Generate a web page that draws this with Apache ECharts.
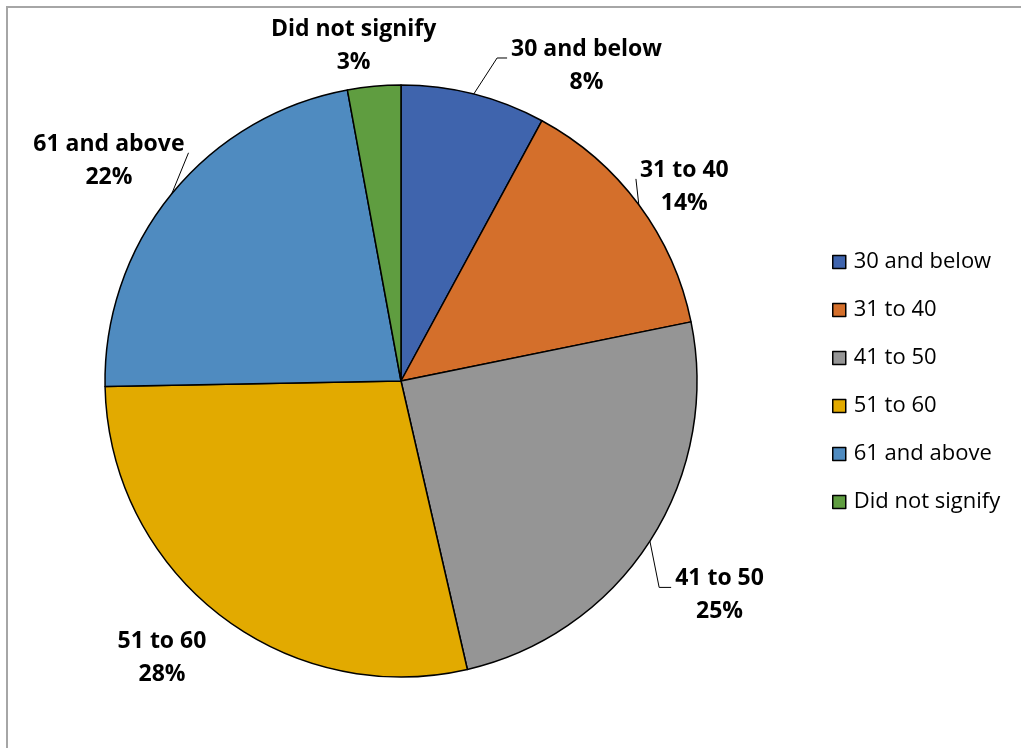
<!DOCTYPE html>
<html>
<head>
<meta charset="utf-8">
<script src="https://cdn.jsdelivr.net/npm/echarts@6/dist/echarts.min.js"></script>
<style>
html,body{margin:0;padding:0;background:#fff;overflow:hidden;}
#frame{position:absolute;left:6px;top:6px;width:1100px;height:800px;border-top:2px solid #a6a6a6;border-left:2px solid #a6a6a6;}
#chart{position:absolute;left:0;top:0;width:1021px;height:748px;}
</style>
</head>
<body>
<div id="frame"></div>
<div id="chart"></div>
<script>
const categories = ['30 and below', '31 to 40', '41 to 50', '51 to 60', '61 and above', 'Did not signify'];
const shares = [7.9, 13.9, 24.6, 28.3, 22.4, 2.9];
const colors = ['#3F64AD', '#D46F2B', '#959595', '#E2AA00', '#4F8BC0', '#5F9D40'];

// label nudges relative to ECharts' default outside placement (layout only)
const labelShiftX = [15, -38, -15, 21, 51, 80];
const labelShiftY = [1, 0, 38, 20, -14, -10];
const leaderShown = [true, true, true, false, true, false];
const leaderTail = [10, 0, 12, 0, 0, 0];

const chart = echarts.init(document.getElementById('chart'));
const font = '"Open Sans", Lato, sans-serif';
chart.setOption({
  animation: false,
  color: colors,
  legend: {
    orient: 'vertical',
    left: 827,
    top: 246,
    itemWidth: 13,
    itemHeight: 13,
    itemGap: 26,
    icon: 'rect',
    textStyle: { fontFamily: font, fontSize: 22, color: '#000', lineHeight: 20, padding: [0, 0, 0, 3] },
    itemStyle: { borderColor: '#000', borderWidth: 1.5 },
    data: categories
  },
  series: [{
    type: 'pie',
    center: [401, 381],
    radius: 296,
    startAngle: 90,
    clockwise: true,
    avoidLabelOverlap: false,
    itemStyle: { borderColor: '#000', borderWidth: 1.5 },
    label: {
      show: true,
      position: 'outside',
      formatter: p => '{a|' + p.name + '}\n{b|' + Math.round(p.value) + '%}',
      rich: {
        a: { fontFamily: font, fontSize: 23, fontWeight: 'bold', color: '#000', lineHeight: 33, align: 'center' },
        b: { fontFamily: font, fontSize: 23, fontWeight: 'bold', color: '#000', lineHeight: 33, align: 'center' }
      }
    },
    labelLine: { show: true, length: 30, length2: 10, lineStyle: { color: '#000', width: 1 } },
    labelLayout: function (params) {
      const i = params.dataIndex;
      const dx = labelShiftX[i], dy = labelShiftY[i];
      const r = params.labelRect;
      const pts = params.labelLinePoints;
      const out = { dx: dx, dy: dy };
      if (pts && pts.length) {
        const start = pts[0];
        const left = r.x + dx, right = r.x + r.width + dx;
        const cy = r.y + dy + r.height / 2;
        const rightSide = (left + right) / 2 > start[0];
        const endX = rightSide ? left - 4 : right + 4;
        const endY = cy - 8;
        const tail = leaderTail[i];
        const midX = rightSide ? endX - tail : endX + tail;
        out.labelLinePoints = leaderShown[i]
          ? [start, [midX, endY], [endX, endY]]
          : [start, start, start];
      }
      return out;
    },
    emphasis: { disabled: true },
    data: categories.map((c, i) => ({ name: c, value: shares[i] }))
  }]
});
</script>
</body>
</html>
